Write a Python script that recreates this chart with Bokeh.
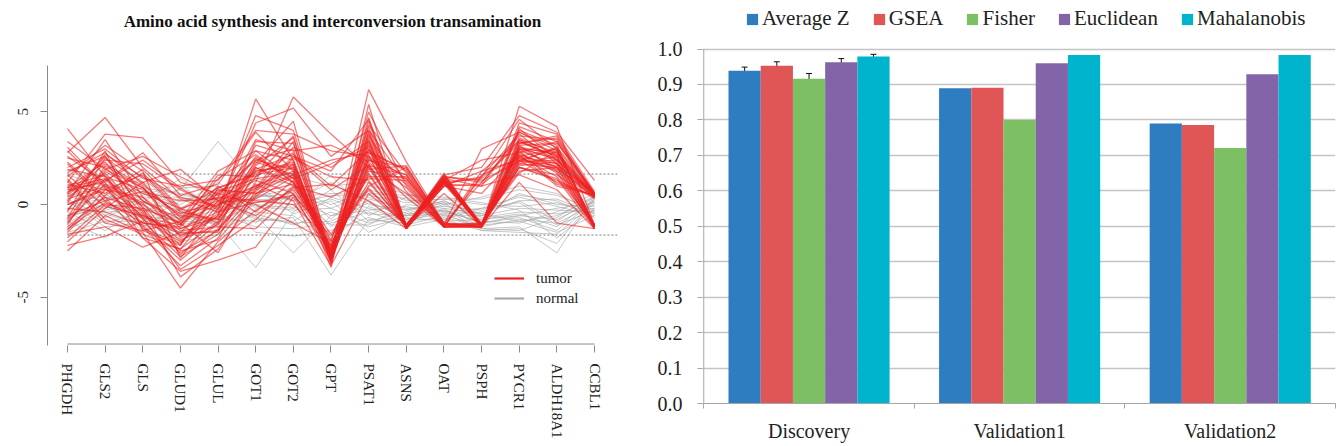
from bokeh.plotting import figure
from bokeh.models import (ColumnDataSource, Range1d, FixedTicker, Legend, LegendItem,
                          Whisker, TeeHead, PrintfTickFormatter, LinearAxis)
from bokeh.transform import dodge
from bokeh.layouts import row
from bokeh.embed import file_html
from bokeh.resources import INLINE

SERIF = "Liberation Serif"

# ---------------- left panel data ----------------
genes = ["PHGDH", "GLS2", "GLS", "GLUD1", "GLUL", "GOT1", "GOT2", "GPT", "PSAT1",
         "ASNS", "OAT", "PSPH", "PYCR1", "ALDH18A1", "CCBL1"]
threshold = 1.645
left_y_ticks = [-5, 0, 5]

tumor = [
    [4.1, 1.5, 0.8, -0.5, 0.2, 1.8, 2.2, -2.8, 3.2, -1.2, 1.4, -1.1, 3.1, 2.4, 0.5],
    [2.8, 4.7, 2.0, 0.3, -0.4, 0.9, 1.6, -2.5, 2.4, 1.6, -1.1, -1.2, 2.6, 3.0, -1.2],
    [1.2, 3.8, 3.6, 1.2, 0.6, 2.4, 3.0, -3.1, 4.5, -1.3, 1.5, 1.2, 3.5, 2.8, 0.6],
    [-2.5, -0.6, -1.5, -4.5, -2.0, -0.3, 0.8, -2.2, 1.2, -1.1, 1.2, -1.2, 2.0, 1.4, -1.3],
    [0.5, 2.2, 1.0, -1.8, -0.6, 5.7, 2.4, -2.9, 2.8, 1.9, -1.2, 1.5, 3.8, 2.2, 0.4],
    [1.8, 2.6, -0.4, -2.6, -1.4, 1.2, 5.8, 3.8, 2.0, -1.2, 1.6, -1.1, 2.8, 3.4, 0.6],
    [-1.2, 0.4, -1.8, -3.6, -3.0, -2.3, 0.4, -2.6, 6.2, 2.3, -1.0, -1.2, 5.3, 4.2, -1.1],
    [0.8, 1.2, 2.8, 0.5, 1.1, 3.9, 1.8, -3.4, 5.4, -1.2, 1.0, 1.8, 2.4, 3.0, 0.5],
    [2.2, 0.2, -1.0, -1.2, 0.8, 0.6, 1.1, -2.4, 1.8, 1.4, -1.1, -1.0, 3.2, 1.8, -1.2],
    [-0.8, 1.8, 0.6, -0.2, -1.0, 1.5, 2.8, -2.7, 3.6, -1.3, 1.3, -1.2, 2.2, 2.6, 0.5],
    [1.5, 3.2, 1.8, -2.9, -0.2, 4.4, 5.2, 2.6, 4.0, 1.2, -1.2, -1.1, 4.4, 3.8, 0.7],
    [-1.6, -1.2, -2.3, -1.5, 0.4, 0.2, 0.0, -2.0, 0.8, -1.1, 1.1, 1.0, 1.6, 0.8, -1.3],
    [0.2, 2.6, 0.2, -0.8, 1.8, 2.9, 1.4, 2.2, 3.1, -1.2, 1.4, -1.2, 3.0, 2.0, 0.4],
    [3.1, 1.0, -0.6, -1.6, -1.4, 0.9, 3.4, -3.2, 4.3, 1.7, -1.1, 3.0, 3.9, 2.9, -1.1],
    [-2.0, -0.2, 1.2, 1.9, 0.2, -0.6, 0.9, 1.1, 0.2, -1.3, 1.5, -1.1, 2.4, 1.2, 0.5],
    [1.0, 1.6, -1.2, -3.3, -1.8, 1.8, 2.1, -2.6, 2.5, 0.9, -1.2, -1.2, 2.9, 2.2, -1.2],
    [0.0, 0.8, 1.6, -0.4, -0.8, 2.2, 4.5, -2.9, 3.9, -1.1, 1.2, 1.4, 3.3, 3.6, 0.6],
    [2.5, 2.0, 0.2, -1.0, 0.6, 0.0, -1.0, -2.1, 1.0, 2.0, -1.0, -1.1, 2.0, 1.6, 0.3],
    [-1.0, 1.4, -0.8, -2.0, -0.6, 3.2, 2.6, 1.8, 4.6, -1.2, 1.7, -1.2, 4.0, 3.2, -1.2],
    [1.4, -0.8, -1.6, -2.4, 0.0, 1.0, 1.8, -3.0, 2.2, -1.3, 1.0, 0.6, 2.7, 1.0, 0.5],
    [0.6, 2.4, 2.2, 0.8, -0.2, 2.6, 1.2, -1.6, 1.5, 1.5, -1.2, -1.2, 3.4, 2.6, -1.2],
    [-1.8, 0.0, -0.2, -3.9, -2.4, 0.4, 2.2, -2.7, 3.4, -1.2, 1.3, -1.2, 2.3, 3.1, 0.6],
    [2.0, 3.0, 1.4, 1.0, 1.3, 4.0, 3.8, 2.9, 2.6, -1.1, 1.6, 2.0, 4.8, 3.9, 1.3],
    [0.3, 1.0, 0.0, -1.4, -1.2, -1.3, 0.6, -2.3, 2.0, 0.6, -1.1, -1.0, 1.8, 2.0, -1.1],
    [-0.4, 2.9, -1.4, -2.2, 0.9, 1.6, 2.0, -3.2, 3.0, -1.3, 1.2, -1.1, 3.6, 2.7, 0.5],
    [3.4, 1.9, 0.9, -0.6, -0.8, 2.0, 1.0, 0.4, 1.4, 1.3, -1.2, 1.6, 2.5, 1.8, 0.4],
    [-2.2, -1.7, -0.9, -2.8, -1.6, 0.6, 1.6, -2.6, 4.0, -1.2, 1.4, -1.2, 2.1, 2.3, -1.3],
    [1.1, 0.6, 1.9, -0.2, 0.4, 2.9, 2.4, -2.8, 1.9, 2.1, -1.1, -1.2, 3.2, 3.3, 0.6],
    [0.9, 2.3, -0.2, -1.0, -2.6, 0.8, 3.1, 2.0, 3.4, -1.1, 1.3, -1.2, 4.1, 2.4, 0.4],
    [-0.6, 0.2, 0.7, 0.2, 0.3, 1.3, 0.6, -3.0, 2.7, -1.3, 1.0, 1.1, 2.6, 1.5, -1.1],
    [2.6, 1.2, -1.8, -2.4, -0.9, 2.4, 1.9, -2.5, 5.0, 1.0, -1.2, -1.1, 3.0, 2.5, 0.5],
    [-1.4, 0.8, 0.4, -1.1, 1.0, -0.4, 1.3, -2.2, 1.6, -1.2, 1.5, -1.0, 1.7, 2.9, -1.2],
    [0.4, 1.7, -0.5, -1.9, -1.1, 1.9, 2.7, 1.0, 2.9, 1.8, -1.0, 1.2, 3.7, 3.5, 0.6],
    [1.7, 2.8, 1.1, -0.7, 0.1, 0.3, 1.5, -2.8, 3.3, -1.2, 1.2, -1.2, 2.9, 1.1, 0.5],
    [-0.2, -0.4, -1.1, -3.0, -1.3, 1.1, 0.2, -3.3, 0.6, -1.1, 1.4, -1.1, 2.2, 2.0, -1.3],
    [0.7, 1.3, 2.4, 0.9, -0.3, 3.5, 2.9, 3.2, 2.3, 0.4, -1.2, -1.2, 3.1, 2.7, 0.4],
    [2.3, 0.4, -0.3, -2.2, 0.7, 1.4, 1.7, -2.4, 3.8, -1.3, 1.1, 1.5, 4.6, 3.0, -1.1],
    [-1.1, 2.1, 0.9, -1.3, -0.7, 2.1, 3.6, -2.9, 2.1, 1.6, -1.1, -1.1, 2.4, 2.1, 0.6],
    [1.3, -1.0, -1.4, -0.9, 1.4, 2.7, 1.2, -2.0, 4.2, -1.2, 1.6, -1.2, 3.3, 3.7, 0.5],
    [-0.9, 1.1, 0.1, -2.5, -1.9, 0.5, 2.5, 1.5, 1.3, -1.2, 1.3, 2.4, 2.8, 1.7, -1.2],
    [0.1, 2.7, 1.5, 0.4, -0.1, 4.8, 4.0, -2.6, 2.6, 1.1, -1.2, -1.2, 3.5, 2.4, 0.5],
    [1.9, 1.5, -0.7, -3.5, -2.2, -0.8, 1.0, -2.3, 3.5, -1.3, 1.2, -1.1, 2.0, 1.3, 0.4],
    [-1.5, 0.5, 1.7, -0.3, 0.9, 1.7, 2.3, -3.1, 4.7, -1.1, 1.4, 1.0, 3.9, 3.1, -1.2],
    [0.6, 3.5, 0.4, -1.7, -0.5, 2.3, 1.6, 2.4, 2.8, 1.4, -1.0, -1.2, 2.6, 2.2, 0.6],
    [2.9, 0.9, -1.3, -2.1, 0.2, 1.0, 2.0, -2.7, 1.7, -1.2, 1.1, -1.2, 3.0, 2.8, 0.5],
    [-0.3, 1.9, 2.6, 1.5, 0.5, 2.5, 1.4, -1.9, 3.0, -1.2, 1.5, 1.3, 2.3, 2.4, -1.1],
    [1.6, -0.1, -0.6, -1.5, -1.5, 3.4, 3.3, -3.0, 2.4, 2.0, -1.1, -1.1, 4.2, 3.4, 0.5],
    [-0.7, 2.5, 1.2, -0.9, 0.0, 0.7, 2.6, 0.8, 2.1, -1.3, 1.3, -1.2, 2.7, 2.0, 0.4],
    [0.9, 1.4, -0.1, -2.7, -1.0, 2.0, 1.2, -2.5, 3.7, 0.7, -1.2, 1.8, 3.4, 2.6, -1.2],
    [-1.3, 0.1, -0.7, -1.1, 1.6, 1.5, 3.7, -2.8, 2.2, -1.1, 1.4, -1.1, 2.5, 1.9, 0.6],
    [0.0, 0.9, -1.0, -1.3, -0.4, 0.1, 0.5, -1.7, 0.9, -1.2, 0.6, -1.2, 1.2, -1.0, -1.3],
]

normal = [
    [0.5, -0.2, 0.3, 0.8, 3.4, 1.0, -0.2, 0.3, -0.5, -0.6, -0.3, -1.0, -0.6, -0.8, 0.2],
    [-0.8, 0.4, -0.6, -0.9, -1.0, -3.4, -0.4, 0.8, -0.9, -0.4, 0.2, -0.6, -0.2, -0.3, -0.4],
    [0.2, -1.0, -0.4, 0.3, 0.5, -0.6, -2.6, -0.6, 0.2, -0.8, -0.5, -1.3, -1.2, -2.6, 0.5],
    [1.2, 0.8, 0.1, -0.3, -0.2, 0.4, 0.9, -1.2, 0.8, 0.3, -0.8, -0.2, 0.4, -0.1, -0.6],
    [-1.3, -0.5, -1.1, -1.5, -0.8, -0.9, -0.7, -3.8, -0.8, -1.0, -0.2, -1.4, -1.5, -1.6, 0.1],
    [0.0, 0.3, 0.9, 0.6, 0.2, 0.1, 0.4, 0.6, 0.5, 0.1, 0.3, 0.3, 0.8, 0.5, -0.3],
    [-0.4, -1.4, -0.2, -0.6, -1.4, -0.5, -1.1, -0.4, -1.2, -0.7, -0.9, -0.8, -0.5, -1.2, 0.3],
    [0.8, 0.6, -0.8, -1.2, 0.8, 0.6, 0.2, 1.2, 0.0, -0.3, 0.1, -0.5, 0.2, 0.3, -0.5],
    [-0.6, -0.2, 0.5, 1.1, -0.5, -1.2, -1.3, -1.0, -0.4, -1.1, -0.6, -1.1, -0.9, -0.6, 0.4],
    [1.6, 1.0, 0.6, 0.0, 1.2, -0.2, 0.7, -0.2, 0.6, 0.5, 0.4, 0.1, -0.3, -1.8, -0.2],
    [-1.0, 0.1, -1.4, -0.4, 0.0, 0.9, -0.5, 0.2, -1.5, -0.5, -0.4, -0.9, -1.0, -0.4, 0.6],
    [0.3, -0.7, 0.2, -2.0, -1.6, 0.2, 0.5, -1.6, 0.3, -0.2, -0.1, -0.3, 0.5, 0.2, -0.7],
    [-0.2, 1.3, 1.2, 0.5, 0.3, -0.8, -0.9, 0.4, -0.2, -0.9, -0.7, -1.2, -0.8, -1.0, 0.0],
    [0.9, -0.4, -0.3, -0.8, -0.3, 1.4, 1.1, -0.8, 1.0, 0.6, 0.0, 0.4, 1.0, 0.6, -0.4],
    [-1.5, -0.9, -0.9, 0.2, 0.6, -1.5, -1.7, -1.4, -0.7, -1.2, -0.8, -1.4, -1.3, -2.1, 0.3],
    [0.1, 0.5, 0.0, -1.1, -0.7, 0.3, 0.0, 0.5, 0.4, -0.3, 0.2, -0.7, -0.4, -0.5, -0.2],
    [-0.9, -1.8, -0.5, 0.9, 1.0, -0.1, -0.3, -0.2, -1.0, -0.6, -0.5, -0.4, 0.2, -0.9, 0.4],
    [0.6, 0.2, 1.5, -0.5, -1.1, 0.8, 1.5, 1.0, 1.2, 0.2, 0.3, 0.0, -0.1, 0.1, -0.5],
    [-0.3, 0.7, -0.7, -1.6, 0.4, -0.4, -0.6, -2.0, -0.1, -0.8, -0.3, -1.0, -0.7, -1.4, 0.2],
    [1.0, -0.6, 0.4, 0.4, -0.4, 0.5, 0.3, -0.6, -0.3, -0.1, -0.6, -0.6, 0.6, 0.0, -0.1],
    [-0.7, 0.0, -1.2, -0.2, 0.9, -1.0, 0.8, 0.0, 0.7, -0.5, 0.1, -1.3, -1.4, -0.7, 0.5],
    [0.4, 1.1, 0.7, -0.7, -0.9, 0.0, -0.2, 1.6, -0.6, 0.4, -0.4, -0.2, 0.1, -1.1, -0.3],
    [-1.2, -0.3, 0.1, 1.4, 0.2, -0.7, -1.0, -0.9, 0.1, -0.6, 0.0, -0.8, -0.6, -0.2, 0.1],
    [0.2, -1.2, -1.0, -0.3, -1.2, 0.4, 0.6, -1.1, -1.1, 0.0, -0.2, -0.5, -0.9, -1.5, -0.6],
]

# ---------------- right panel data ----------------
categories = ["Discovery", "Validation1", "Validation2"]
methods = ["Average Z", "GSEA", "Fisher", "Euclidean", "Mahalanobis"]
colors = ["#2F7DC1", "#E05656", "#7DC063", "#8464A8", "#00B4CD"]
average_z = [0.939, 0.889, 0.790]
gsea = [0.953, 0.891, 0.786]
fisher = [0.916, 0.800, 0.721]
euclidean = [0.963, 0.960, 0.929]
mahalanobis = [0.979, 0.983, 0.983]
discovery_err = [0.010, 0.011, 0.015, 0.010, 0.006]
right_y_ticks = [0.0, 0.1, 0.2, 0.3, 0.4, 0.5, 0.6, 0.7, 0.8, 0.9, 1.0]

H = 444

# ================= left figure =================
RED = "#EE2222"
GRAY = "#A9A9A9"
AXC = "#8A8A8A"
gx = list(range(len(genes)))
p1 = figure(width=640, height=H, output_backend="svg", toolbar_location=None,
            frame_align=False,
            x_range=Range1d(-0.53, 14.61), y_range=Range1d(-7.6, 7.5),
            min_border_left=47, min_border_right=23, min_border_top=65,
            min_border_bottom=99)
p1.outline_line_color = None
p1.grid.visible = False
p1.title.text = "Amino acid synthesis and interconversion transamination"
p1.title.align = "center"
p1.title.text_font = SERIF
p1.title.text_font_size = "17px"
p1.title.text_font_style = "bold"
p1.title.text_color = "#111111"
p1.title.standoff = 10

p1.multi_line(xs=[gx] * len(normal), ys=normal, line_color=GRAY, line_alpha=0.65, line_width=1)
p1.multi_line(xs=[gx] * len(tumor), ys=tumor, line_color=RED, line_alpha=0.6, line_width=1.3)

x_end = p1.x_range.end
p1.segment(x0=[0, 0], y0=[threshold, -threshold], x1=[x_end, x_end],
           y1=[threshold, -threshold], line_color="#777777", line_dash="2 2", line_width=1)
# R-style x axis line from first to last gene
p1.segment(x0=[0], y0=[-7.52], x1=[len(genes) - 1], y1=[-7.52], line_color=AXC, line_width=1)

xax = p1.below[0]
xax.ticker = FixedTicker(ticks=gx)
xax.major_label_overrides = {i: g for i, g in enumerate(genes)}
xax.major_label_orientation = "vertical"
xax.axis_line_color = None
xax.major_tick_out = 7
xax.major_tick_in = 0
xax.major_tick_line_color = AXC
xax.major_label_standoff = 11
xax.major_label_text_font = SERIF
xax.major_label_text_font_size = "15px"
xax.major_label_text_color = "#222222"

yax = p1.left[0]
yax.ticker = FixedTicker(ticks=left_y_ticks)
yax.major_label_overrides = {t: str(t) for t in left_y_ticks}
yax.major_label_orientation = "vertical"
yax.axis_line_color = AXC
yax.major_tick_out = 7
yax.major_tick_in = 0
yax.major_tick_line_color = AXC
yax.major_label_standoff = 12
yax.major_label_text_font = SERIF
yax.major_label_text_font_size = "15px"
yax.major_label_text_color = "#222222"

# empty spacer between the title and the plot region (one blank, unlabeled tick)
p1.add_layout(LinearAxis(ticker=FixedTicker(ticks=[gx[0]]), axis_line_color=None,
                         major_label_overrides={gx[0]: ""},
                         major_tick_out=30, major_tick_in=0, major_tick_line_color=None,
                         major_label_standoff=0, minor_tick_line_color=None), "above")

lt = p1.line(x=[float("nan")], y=[float("nan")], line_color=RED, line_width=2.2)
ln = p1.line(x=[float("nan")], y=[float("nan")], line_color=GRAY, line_width=2.2)
leg1 = Legend(items=[LegendItem(label="tumor", renderers=[lt]),
                     LegendItem(label="normal", renderers=[ln])],
              location=(447, 37), glyph_width=30, glyph_height=20, label_height=20,
              label_standoff=12, spacing=0, padding=0, margin=0,
              border_line_color=None, background_fill_alpha=0,
              label_text_font=SERIF, label_text_font_size="15px",
              label_text_color="#222222")
p1.add_layout(leg1, "center")

# ================= right figure =================
keys = ["s0", "s1", "s2", "s3", "s4"]
series = [average_z, gsea, fisher, euclidean, mahalanobis]
data = dict(xc=[i + 0.5 for i in range(len(categories))])
for k, s in zip(keys, series):
    data[k] = s
src = ColumnDataSource(data)

# frame reaches the top of the canvas so that the legend can sit above the 1.0 line
p2 = figure(width=696, height=H, output_backend="svg", toolbar_location=None,
            frame_align=False,
            x_range=Range1d(-0.006, len(categories)), y_range=Range1d(0, 1.0 + 49 / 358),
            min_border_left=62, min_border_right=1, min_border_top=0,
            min_border_bottom=37)
p2.outline_line_color = None
p2.xgrid.visible = False
p2.ygrid.grid_line_color = "#C4C4C4"
p2.ygrid.grid_line_width = 1.3

bar_w = 0.153
items = []
for j, (k, m, c) in enumerate(zip(keys, methods, colors)):
    off = (j - (len(methods) - 1) / 2) * bar_w
    r = p2.vbar(x=dodge("xc", off, range=p2.x_range), top=k, width=bar_w,
                source=src, fill_color=c, line_color=None)
    items.append(LegendItem(label=m, renderers=[r]))

err_src = ColumnDataSource(dict(
    x=[0.5 + (j - (len(methods) - 1) / 2) * bar_w for j in range(len(methods))],
    upper=[s[0] + e for s, e in zip(series, discovery_err)],
    lower=[s[0] - e for s, e in zip(series, discovery_err)]))
p2.add_layout(Whisker(source=err_src, base="x", upper="upper", lower="lower",
                      line_color="#111111", line_width=1,
                      upper_head=TeeHead(size=6, line_color="#111111", line_width=1),
                      lower_head=TeeHead(size=6, line_color="#111111", line_width=1)))

# value axis line only from 0 to 1
p2.segment(x0=[0], y0=[right_y_ticks[0]], x1=[0], y1=[right_y_ticks[-1]],
           line_color="#A6A6A6", line_width=1)

p2.yaxis.ticker = FixedTicker(ticks=right_y_ticks)
p2.yaxis.formatter = PrintfTickFormatter(format="%.1f")
p2.yaxis.axis_line_color = None
p2.yaxis.major_tick_out = 5
p2.yaxis.major_tick_in = 0
p2.yaxis.major_tick_line_color = "#A6A6A6"
p2.yaxis.major_label_standoff = 15
p2.yaxis.major_label_text_font = SERIF
p2.yaxis.major_label_text_font_size = "20px"
p2.yaxis.major_label_text_color = "#222222"

centers = [i + 0.5 for i in range(len(categories))]
p2.xaxis.ticker = FixedTicker(ticks=centers, minor_ticks=list(range(len(categories) + 1)))
p2.xaxis.major_label_overrides = {c: n for c, n in zip(centers, categories)}
p2.xaxis.axis_line_color = "#A6A6A6"
p2.xaxis.major_tick_out = 0
p2.xaxis.major_tick_in = 0
p2.xaxis.minor_tick_out = 5
p2.xaxis.minor_tick_in = 0
p2.xaxis.minor_tick_line_color = "#A6A6A6"
p2.xaxis.major_label_standoff = 11
p2.xaxis.major_label_text_font = SERIF
p2.xaxis.major_label_text_font_size = "20px"
p2.xaxis.major_label_text_color = "#222222"

leg2 = Legend(items=items, orientation="horizontal", location=(43, 372),
              glyph_width=14, glyph_height=14, label_standoff=3, spacing=22,
              padding=0, margin=0, border_line_color=None, background_fill_alpha=0)
leg2.label_text_font = SERIF
leg2.label_text_font_size = "21px"
leg2.label_text_color = "#222222"
p2.add_layout(leg2, "center")

layout = row(p1, p2)
open("out.html", "w").write(file_html(layout, INLINE))
